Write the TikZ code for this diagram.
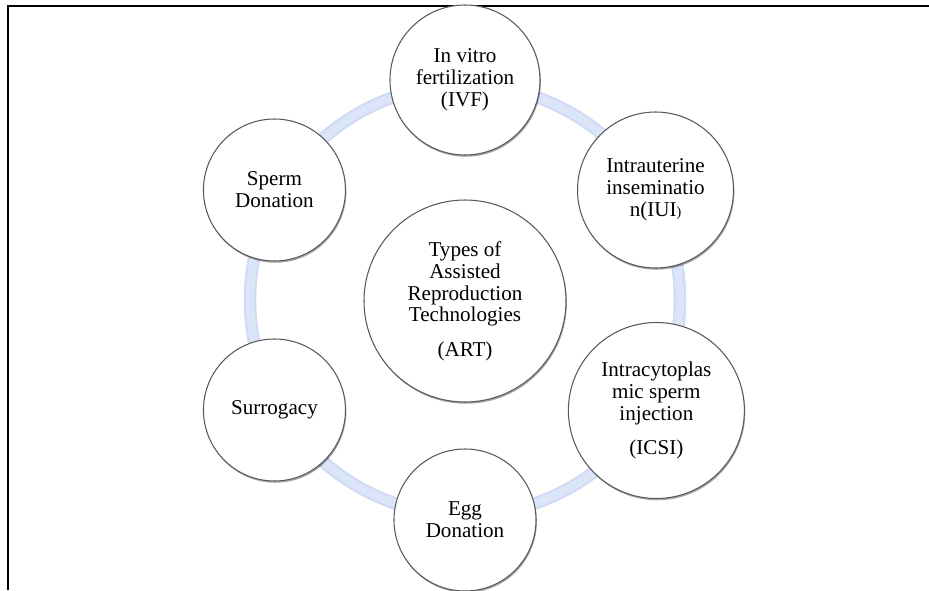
\documentclass[tikz,border=0pt]{standalone}
\usepackage{fontspec}
\setmainfont{Liberation Serif}
\usetikzlibrary{shadows}
\definecolor{ringblue}{RGB}{206,219,244}
\definecolor{ringlight}{RGB}{219,229,248}

\begin{document}
\begin{tikzpicture}
	\tikzset{
		artcircle/.style={circle, draw=black!65, line width=0.6pt, fill=white,
				align=center, inner sep=0pt, font=\fontsize{12}{12.5}\selectfont,
				drop shadow={shadow xshift=0.5pt, shadow yshift=-1pt, opacity=0.35, fill=black}},
	}
	\useasboundingbox (-9.3,-5.8) rectangle (9.28,6.0);
	\draw[line width=1.1pt] (-9.14,-5.8) -- (-9.14,5.88) -- (9.28,5.88);
	% ring behind the circles
	\draw[line width=0.25cm, ringblue] (0,0) circle (4.3);
	\draw[line width=0.17cm, ringlight] (0,0) circle (4.3);
	% hub
	\node[artcircle, minimum size=4.04cm] (art) at (0,-0.02)
	{Types of\\Assisted\\Reproduction\\Technologies\\[7pt](ART)};
	% satellites
	\node[artcircle, minimum size=3.0cm] (ivf) at (90:4.4) {In vitro\\fertilization\\(IVF)};
	\node[artcircle, minimum size=3.12cm] (iui) at (30:4.4) {Intrauterine\\inseminatio\\n(IUI{\footnotesize )}};
	\node[artcircle, minimum size=3.52cm] (icsi) at (-30:4.42) {Intracytoplas\\mic sperm\\injection\\[7pt](ICSI)};
	\node[artcircle, minimum size=2.84cm] (egg) at (-90:4.4) {Egg\\Donation};
	\node[artcircle, minimum size=2.84cm] (surrogacy) at (210:4.4) {Surrogacy};
	\node[artcircle, minimum size=2.84cm] (sperm) at (150:4.4) {Sperm\\Donation};
\end{tikzpicture}
\end{document}
